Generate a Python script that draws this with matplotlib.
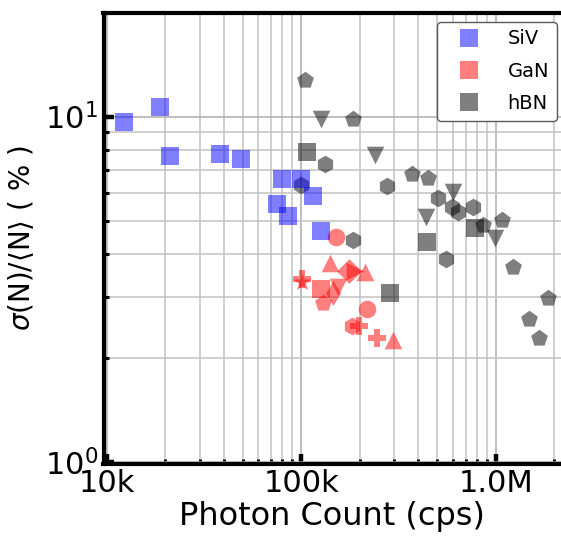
import matplotlib
matplotlib.use("Agg")
import matplotlib.pyplot as plt
from matplotlib.lines import Line2D
from matplotlib.ticker import FixedLocator, FixedFormatter, LogLocator, NullFormatter

plt.rcParams['font.family'] = ['DejaVu Sans']
plt.rcParams['mathtext.fontset'] = 'dejavusans'

# ---------------- data (photon count in cps, sigma(N)/<N> in %) ----------------
siv_x = [12.3e3, 18.8e3, 21.1e3, 38.2e3, 48.8e3, 79.6e3, 99.3e3, 74.7e3, 114.5e3, 85.7e3, 127e3]
siv_y = [9.61, 10.62, 7.71, 7.80, 7.51, 6.59, 6.59, 5.58, 5.88, 5.16, 4.67]

# hBN, grouped by marker
hbn_pent_x = [105e3, 185e3, 372e3, 450e3, 1.075e6, 1.233e6, 1.854e6, 1.491e6, 1.673e6, 864e3]
hbn_pent_y = [12.78, 9.85, 6.82, 6.63, 5.02, 3.67, 2.98, 2.59, 2.29, 4.85]
hbn_hex_x = [132e3, 99.3e3, 277e3, 507e3, 594e3, 643e3, 768e3, 554e3, 185e3]
hbn_hex_y = [7.29, 6.34, 6.30, 5.80, 5.48, 5.30, 5.48, 3.86, 4.39]
hbn_tri_x = [126e3, 240e3, 606e3, 438e3, 993e3]
hbn_tri_y = [9.83, 7.74, 6.06, 5.13, 4.44]
hbn_sq_x = [106.6e3, 783e3, 442e3, 286e3]
hbn_sq_y = [7.88, 4.75, 4.34, 3.08]

# GaN, one marker per emitter
gan_markers = ['o', 'o', '^', '^', '^', 'D', '>', '*', 'P', 's', 'v', 'd', 'p', 'h', 'P', 'P']
gan_x = [150e3, 219e3, 140.5e3, 213e3, 297e3, 175e3, 189e3, 100.5e3, 100.5e3, 126e3, 155e3,
         145.6e3, 129e3, 182e3, 199e3, 246e3]
gan_y = [4.48, 2.78, 3.76, 3.55, 2.25, 3.58, 3.58, 3.32, 3.39, 3.16, 3.20,
         3.08, 2.88, 2.47, 2.47, 2.28]

series_names = ['SiV', 'GaN', 'hBN']
series_colors = ['blue', 'red', 'black']

x_ticks = [1e4, 1e5, 1e6]
x_ticklabels = ['10k', '100k', '1.0M']
y_ticks = [1, 10]
y_ticklabels = [r'$10^{0}$', r'$10^{1}$']

# ---------------- figure ----------------
W, H = 561, 536
fig = plt.figure(figsize=(W / 100, H / 100), dpi=100)
left_px, right_px, bottom_px, top_px = 103.5, 561, 463.5, 12.5
ax = fig.add_axes([left_px / W, 1 - bottom_px / H,
                   (right_px - left_px) / W, (bottom_px - top_px) / H])
ax.set_xscale('log')
ax.set_yscale('log')

S = 160
A = 0.5
for m, x, y in zip(gan_markers, gan_x, gan_y):
    ax.scatter([x], [y], marker=m, s=(190 if m == '*' else S), color='red', alpha=A,
               linewidths=0, zorder=3)
ax.scatter(hbn_pent_x, hbn_pent_y, marker='p', s=S, color='black', alpha=A, linewidths=0, zorder=3)
ax.scatter(hbn_hex_x, hbn_hex_y, marker='h', s=S, color='black', alpha=A, linewidths=0, zorder=3)
ax.scatter(hbn_tri_x, hbn_tri_y, marker='v', s=S, color='black', alpha=A, linewidths=0, zorder=3)
ax.scatter(hbn_sq_x, hbn_sq_y, marker='s', s=S, color='black', alpha=A, linewidths=0, zorder=3)
ax.scatter(siv_x, siv_y, marker='s', s=S, color='blue', alpha=A, linewidths=0, zorder=3)

ax.set_xlim(9.6e3, 2.17e6)
ax.set_ylim(0.99, 20)

ax.xaxis.set_major_locator(FixedLocator(x_ticks))
ax.xaxis.set_major_formatter(FixedFormatter(x_ticklabels))
ax.yaxis.set_major_locator(FixedLocator(y_ticks))
ax.yaxis.set_major_formatter(FixedFormatter(y_ticklabels))
ax.xaxis.set_minor_locator(LogLocator(base=10, subs=range(2, 10), numticks=20))
ax.yaxis.set_minor_locator(LogLocator(base=10, subs=range(2, 10), numticks=20))
ax.xaxis.set_minor_formatter(NullFormatter())
ax.yaxis.set_minor_formatter(NullFormatter())

ax.grid(True, which='major', color='0.68', linewidth=1.1, zorder=0)
ax.grid(True, which='minor', color='0.76', linewidth=1.1, zorder=0)
ax.set_axisbelow(True)

ax.tick_params(which='major', direction='in', length=7, width=3.2, labelsize=22, pad=4)
ax.tick_params(which='minor', direction='in', length=3.5, width=2.2)
for side in ['left', 'bottom', 'top']:
    ax.spines[side].set_linewidth(3)
ax.spines['right'].set_visible(False)

ax.set_xlabel('Photon Count (cps)', fontsize=23, labelpad=2)
ax.set_ylabel(r'$\sigma$(N)/$\langle$N$\rangle$ ( % )', fontsize=20, labelpad=6)

handles = [Line2D([], [], linestyle='none', marker='s', markersize=12.7,
                  markerfacecolor=c, markeredgewidth=0, alpha=A) for c in series_colors]
leg = ax.legend(handles, series_names, loc='upper right',
                bbox_to_anchor=(556.7 / W, 1 - 21.7 / H), bbox_transform=fig.transFigure,
                borderaxespad=0, fontsize=14, handlelength=2.4, handletextpad=0.8,
                labelspacing=0.68, borderpad=0.4, fancybox=True, framealpha=1)
leg.get_frame().set_edgecolor('0.35')
leg.get_frame().set_linewidth(1.0)

fig.savefig('out.png', dpi=100)
